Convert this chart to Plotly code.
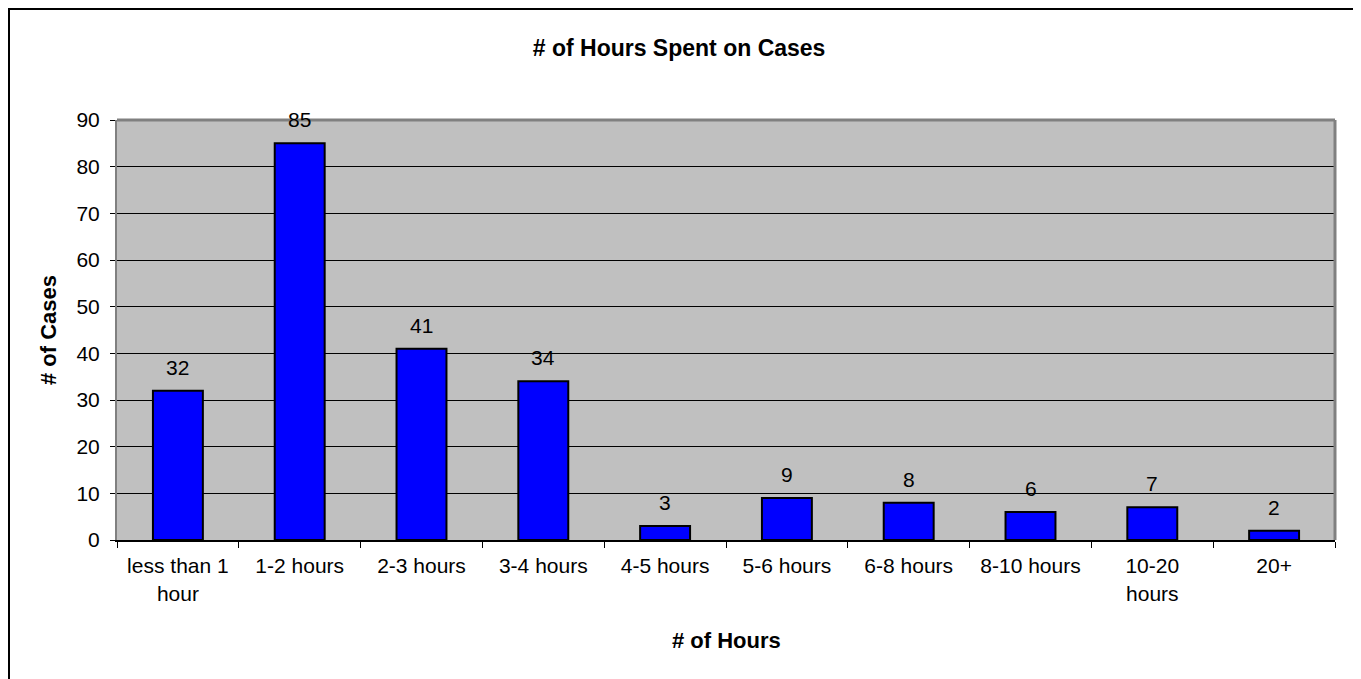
import plotly.graph_objects as go

# données
categories = ["less than 1<br>hour", "1-2 hours", "2-3 hours", "3-4 hours", "4-5 hours",
              "5-6 hours", "6-8 hours", "8-10 hours", "10-20<br>hours", "20+"]
cases = [32, 85, 41, 34, 3, 9, 8, 6, 7, 2]
y_ticks = [0, 10, 20, 30, 40, 50, 60, 70, 80, 90]

font = "Liberation Sans, Arial, sans-serif"

# la page ajoute une marge de 8px : la figure est donc un peu plus petite
W, H = 1353, 671
L, R, T, B = 109, 26, 112, 139
plot_w = W - L - R
plot_h = H - T - B

fig = go.Figure(
    data=[go.Bar(
        x=categories,
        y=cases,
        marker_color="#0000FF",
        marker_line=dict(color="black", width=2),
        hovertemplate="%{y}<extra></extra>",
    )]
)

# étiquettes de valeurs au-dessus des barres
for c, v in zip(categories, cases):
    fig.add_annotation(x=c, y=v, text=str(v), showarrow=False, yanchor="bottom",
                       yshift=10, font=dict(family=font, size=21, color="black"))

# titres des axes
fig.add_annotation(text="<b># of Hours</b>", xref="paper", yref="paper",
                   x=0.5, y=(T + plot_h - 632) / plot_h, yanchor="middle",
                   showarrow=False, font=dict(size=22))
fig.add_annotation(text="<b># of Cases</b>", xref="paper", yref="paper",
                   x=(40 - L) / plot_w, y=0.5, xanchor="center", textangle=-90,
                   showarrow=False, font=dict(size=22))

fig.update_layout(
    width=W,
    height=H,
    margin={"l": L, "r": R, "t": T, "b": B},
    paper_bgcolor="white",
    plot_bgcolor="#C0C0C0",
    bargap=0.59,
    font=dict(family=font, size=21, color="black"),
    title=dict(text="<b># of Hours Spent on Cases</b>", x=0.496, xanchor="center",
               y=1 - 40 / H, yanchor="middle", font=dict(size=23)),
    showlegend=False,
)

fig.update_xaxes(
    showgrid=False,
    ticks="outside", tickson="boundaries", ticklen=6, tickcolor="black",
    ticklabelstandoff=6,
    showline=True, linecolor="black", linewidth=2,
)
fig.update_yaxes(
    range=[0, 90], tickvals=y_ticks,
    showgrid=True, gridcolor="black", gridwidth=1,
    ticks="outside", ticklen=5, tickcolor="black",
    ticklabelstandoff=6,
    showline=True, linecolor="#808080", linewidth=2,
    zeroline=False,
)

# bord gris de la zone de tracé (haut et droite)
fig.add_shape(type="line", xref="paper", yref="paper", x0=0, x1=1, y0=1, y1=1,
              line=dict(color="#808080", width=3))
fig.add_shape(type="line", xref="paper", yref="paper", x0=1, x1=1, y0=0, y1=1,
              line=dict(color="#808080", width=3))

# cadre extérieur du graphique
fig.add_shape(type="rect", xref="paper", yref="paper",
              x0=(1 - L) / plot_w, x1=(1346 - L) / plot_w,
              y0=(T + plot_h - 700) / plot_h, y1=(T + plot_h - 1) / plot_h,
              line=dict(color="black", width=2), layer="below")

fig.write_html("out.html")
